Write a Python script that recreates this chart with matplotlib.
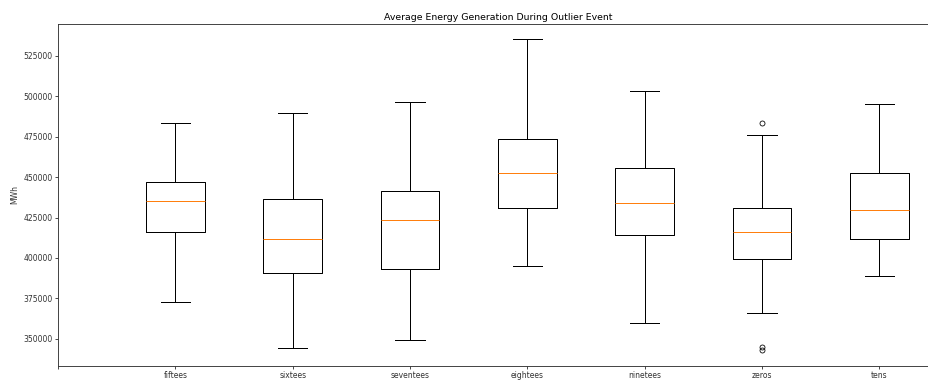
import matplotlib
matplotlib.use("Agg")
import matplotlib.pyplot as plt

categories = ["fiftees", "sixtees", "seventees", "eightees", "ninetees", "zeros", "tens"]
whislo = [373000, 344300, 349400, 394900, 359900, 366300, 388900]
q1 = [415900, 390600, 393400, 431100, 414400, 399400, 412000]
med = [435200, 412000, 423300, 452400, 434200, 416300, 429500]
q3 = [447000, 436300, 441400, 473500, 455600, 430700, 452400]
whishi = [483400, 489400, 496200, 535100, 503400, 476200, 495200]
fliers = [[], [], [], [], [], [483200, 345300, 343000], []]
tick_labels = [""] + categories

DPI = 72
fig = plt.figure(figsize=(928 / DPI, 382 / DPI), dpi=DPI)
W, H = 928, 382
left, right, top, bottom = 58, 938, 23.7, 366
ax = fig.add_axes([left / W, (H - bottom) / H, (right - left) / W, (bottom - top) / H])

stats = []
for i, c in enumerate(categories):
    stats.append(dict(label=c, whislo=whislo[i], q1=q1[i], med=med[i],
                      q3=q3[i], whishi=whishi[i], fliers=fliers[i]))

lw = 1.0
ax.bxp(stats, positions=list(range(1, len(categories) + 1)), widths=0.5,
       boxprops=dict(linewidth=lw, color="black"),
       whiskerprops=dict(linewidth=lw, color="black"),
       capprops=dict(linewidth=lw, color="black"),
       medianprops=dict(linewidth=lw, color="#ff7f0e"),
       flierprops=dict(marker="o", markersize=5, markerfacecolor="none",
                       markeredgecolor="black", markeredgewidth=0.8))

fs = 7.6
ax.set_xticks(range(len(tick_labels)))
ax.set_xticklabels(tick_labels, fontsize=fs, color="#333333")
ax.set_xlim(0, 7.5)
ax.set_ylim(333300, 544700)
yt = [350000, 375000, 400000, 425000, 450000, 475000, 500000, 525000]
ax.set_yticks(yt)
ax.set_yticklabels([str(v) for v in yt], fontsize=fs, color="#333333")
ax.tick_params(length=2.6, width=0.7, pad=2.6)
for s in ax.spines.values():
    s.set_linewidth(0.9)
    s.set_color("#333333")
ax.set_ylabel("MWh", fontsize=fs, color="#333333", labelpad=4)
ax.set_title("Average Energy Generation During Outlier Event", fontsize=9.4, pad=4)

fig.savefig("out.png", dpi=DPI)
